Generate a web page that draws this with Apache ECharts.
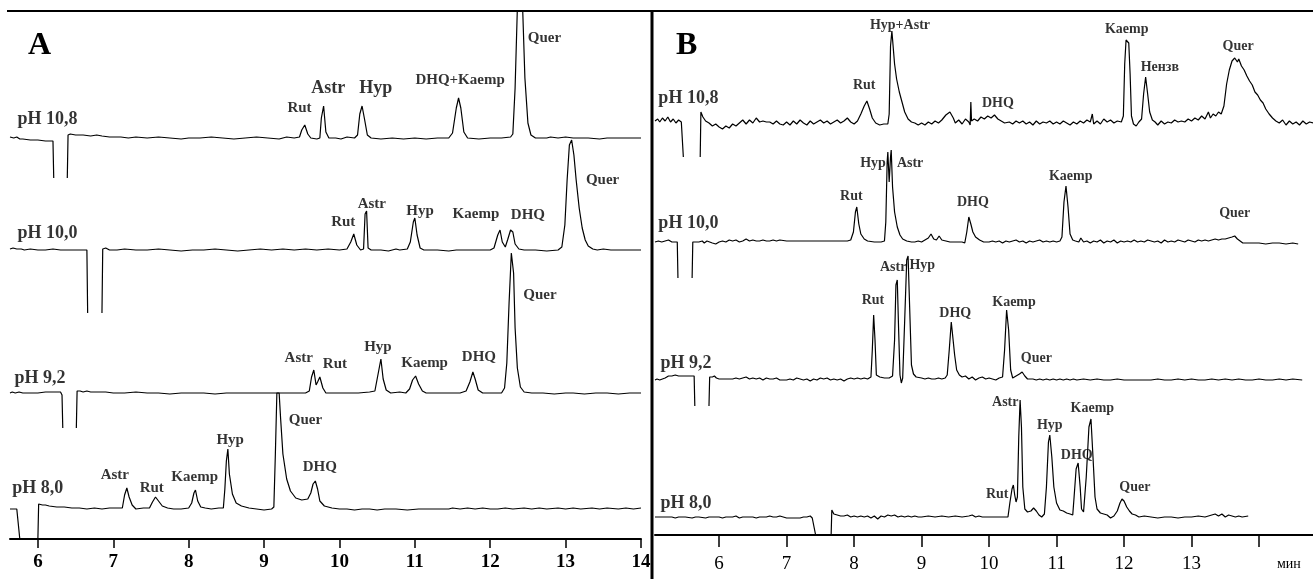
<!DOCTYPE html>
<html>
<head>
<meta charset="utf-8">
<script src="https://cdn.jsdelivr.net/npm/echarts@6/dist/echarts.min.js"></script>
<style>
  html, body { margin: 0; padding: 0; background: #fff; }
  #chart { width: 1313px; height: 579px; }
</style>
</head>
<body>
<div id="chart"></div>
<script>
// electropherograms, signal (time in min, height above the trace baseline)
// null = the trace leaves the picture (clipped negative dip)

// ---- panel A ----
var a108 = [[5.63,1],[5.68,0],[5.72,1],[5.76,-1],[5.8,-1],[5.9,-2],[6.0,-2],[6.1,-3],[6.2,-3],[6.21,-40],[6.3,null],[6.39,-40],[6.4,3],[6.43,4],[6.5,3],[6.6,3],[6.7,2],[6.78,3],[6.8,1],[6.85,2],[6.95,1],[7.1,1],[7.2,0],[7.3,1],[7.45,0],[7.6,1],[7.75,0],[7.9,-1],[8.0,0],[8.15,0],[8.3,1],[8.45,0],[8.6,-1],[8.75,0],[8.9,1],[9.05,0],[9.2,-1],[9.3,1],[9.4,0],[9.47,1],[9.5,8],[9.54,13],[9.58,4],[9.62,0],[9.7,-1],[9.74,0],[9.76,20],[9.79,32],[9.82,6],[9.86,0],[9.95,0],[10.02,-1],[10.1,1],[10.2,0],[10.24,3],[10.27,24],[10.3,32],[10.33,20],[10.37,3],[10.42,0],[10.55,-1],[10.7,0],[10.85,-1],[11.0,0],[11.15,-1],[11.3,0],[11.45,0],[11.5,5],[11.55,30],[11.58,40],[11.61,30],[11.65,6],[11.7,0],[11.85,-1],[12.0,0],[12.15,0],[12.27,1],[12.3,4],[12.33,50],[12.36,130],[12.4,135],[12.43,130],[12.46,60],[12.5,15],[12.54,3],[12.6,0],[12.75,0],[12.8,1],[12.9,0],[13.0,1],[13.1,0],[13.3,0],[13.45,-1],[13.55,0],[13.7,0],[13.85,0],[14.0,0]];
var a100 = [[5.63,1],[5.67,2],[5.72,1],[5.78,1],[5.82,0],[5.9,1],[6.0,0],[6.1,0],[6.2,1],[6.3,0],[6.4,0],[6.5,0],[6.6,0],[6.65,0],[6.66,-63],[6.75,null],[6.85,-63],[6.86,1],[6.9,2],[6.95,0],[7.05,0],[7.15,1],[7.3,0],[7.45,0],[7.6,1],[7.75,0],[7.9,-1],[8.05,0],[8.2,0],[8.35,1],[8.5,0],[8.65,-1],[8.8,0],[8.95,1],[9.1,0],[9.25,1],[9.4,0],[9.55,1],[9.7,0],[9.85,1],[10.0,0],[10.1,1],[10.15,8],[10.19,16],[10.23,5],[10.28,0],[10.32,1],[10.34,36],[10.36,39],[10.38,2],[10.42,0],[10.55,0],[10.65,-1],[10.75,1],[10.77,3],[10.8,0],[10.9,1],[10.94,8],[10.98,28],[11.0,32],[11.03,15],[11.07,2],[11.12,0],[11.3,0],[11.45,-1],[11.55,0],[11.7,0],[11.85,0],[12.0,0],[12.05,2],[12.1,15],[12.13,20],[12.16,8],[12.2,3],[12.23,10],[12.27,20],[12.3,18],[12.33,6],[12.38,1],[12.45,0],[12.6,0],[12.75,-1],[12.9,0],[12.95,3],[12.99,25],[13.02,70],[13.05,105],[13.08,110],[13.11,95],[13.14,70],[13.18,42],[13.22,22],[13.26,10],[13.3,4],[13.36,1],[13.42,0],[13.5,1],[13.6,0],[13.75,0],[13.9,0],[14.0,0]];
var a92 = [[5.63,0],[5.66,1],[5.7,0],[5.75,1],[5.8,0],[5.9,0],[6.0,0],[6.1,1],[6.2,1],[6.3,1],[6.32,-2],[6.33,-35],[6.42,null],[6.51,-35],[6.52,2],[6.56,2],[6.6,1],[6.65,2],[6.7,1],[6.8,1],[6.9,1],[7.0,0],[7.15,0],[7.3,1],[7.45,0],[7.6,0],[7.75,-1],[7.9,0],[8.05,0],[8.2,0],[8.35,-1],[8.5,0],[8.65,0],[8.8,0],[8.95,0],[9.1,0],[9.25,0],[9.4,0],[9.55,0],[9.6,2],[9.63,16],[9.66,23],[9.69,8],[9.71,11],[9.74,16],[9.78,5],[9.82,0],[9.95,0],[10.1,0],[10.25,0],[10.4,1],[10.47,2],[10.51,18],[10.55,34],[10.58,14],[10.62,3],[10.68,0],[10.8,1],[10.88,0],[10.93,4],[10.97,13],[11.01,17],[11.05,9],[11.1,2],[11.15,0],[11.3,0],[11.45,0],[11.6,0],[11.68,2],[11.73,11],[11.77,21],[11.8,14],[11.84,3],[11.9,0],[12.05,0],[12.15,0],[12.19,5],[12.22,30],[12.25,90],[12.28,140],[12.31,120],[12.33,65],[12.36,25],[12.4,6],[12.45,1],[12.55,0],[12.7,0],[12.85,-1],[13.0,0],[13.1,0],[13.25,-1],[13.4,0],[13.55,0],[13.7,-1],[13.85,0],[14.0,0]];
var a80 = [[5.63,0],[5.66,0],[5.72,0],[5.74,-1],[5.76,-30],[6.0,-30],[6.01,5],[6.06,4],[6.1,4],[6.15,3],[6.25,2],[6.35,2],[6.45,1],[6.55,1],[6.65,0],[6.75,1],[6.85,0],[6.95,1],[7.05,1],[7.12,1],[7.15,14],[7.18,21],[7.21,12],[7.25,4],[7.3,0],[7.4,1],[7.48,1],[7.52,7],[7.56,12],[7.6,8],[7.65,3],[7.72,1],[7.8,0],[7.9,0],[8.0,1],[8.04,6],[8.07,16],[8.09,19],[8.12,8],[8.16,2],[8.22,1],[8.3,0],[8.4,1],[8.46,1],[8.48,20],[8.5,48],[8.52,60],[8.54,35],[8.58,15],[8.63,6],[8.7,3],[8.8,1],[8.9,0],[9.0,-1],[9.1,0],[9.13,2],[9.15,55],[9.17,116],[9.2,116],[9.22,90],[9.25,55],[9.3,30],[9.35,18],[9.42,11],[9.5,9],[9.58,10],[9.62,16],[9.65,25],[9.68,28],[9.71,20],[9.74,8],[9.8,3],[9.9,1],[10.0,0],[10.1,0],[10.2,-1],[10.3,0],[10.4,0],[10.5,-1],[10.6,0],[10.75,0],[10.9,-1],[11.05,0],[11.2,0],[11.35,0],[11.45,0],[11.5,1],[11.6,0],[11.7,1],[11.8,0],[11.9,1],[12.0,0],[12.1,0],[12.2,1],[12.3,0],[12.45,1],[12.55,0],[12.65,1],[12.75,0],[12.9,1],[13.0,0],[13.1,1],[13.2,0],[13.35,1],[13.45,0],[13.55,1],[13.7,0],[13.8,1],[13.9,0],[14.0,1]];

// ---- panel B ----
var b108 = [[5.05,3],[5.09,5],[5.12,2],[5.16,6],[5.2,3],[5.24,7],[5.28,2],[5.32,5],[5.36,1],[5.4,4],[5.44,2],[5.46,3],[5.47,-33],[5.6,null],[5.72,-33],[5.73,12],[5.76,7],[5.8,3],[5.85,1],[5.9,-2],[5.95,0],[6.0,-3],[6.05,-5],[6.1,-2],[6.15,-4],[6.2,0],[6.25,-2],[6.3,1],[6.35,4],[6.4,0],[6.45,4],[6.5,1],[6.55,6],[6.6,2],[6.65,3],[6.7,2],[6.75,2],[6.8,0],[6.85,3],[6.9,0],[6.95,-1],[7.0,2],[7.05,-1],[7.1,3],[7.15,0],[7.2,4],[7.25,1],[7.3,-1],[7.35,3],[7.4,0],[7.45,2],[7.5,4],[7.55,1],[7.6,3],[7.65,0],[7.7,2],[7.75,4],[7.8,1],[7.85,3],[7.9,6],[7.95,2],[8.0,0],[8.05,3],[8.1,10],[8.15,18],[8.19,23],[8.23,15],[8.27,6],[8.32,1],[8.38,-1],[8.44,0],[8.5,0],[8.52,10],[8.54,78],[8.56,93],[8.58,92],[8.6,60],[8.63,45],[8.67,32],[8.71,22],[8.75,12],[8.8,5],[8.85,2],[8.9,1],[8.95,-1],[9.0,1],[9.05,-1],[9.1,2],[9.15,0],[9.2,3],[9.25,1],[9.3,4],[9.36,9],[9.42,12],[9.47,6],[9.5,1],[9.55,4],[9.6,0],[9.65,5],[9.7,2],[9.72,-1],[9.73,22],[9.74,3],[9.78,5],[9.83,3],[9.88,7],[9.93,5],[9.98,8],[10.03,6],[10.08,9],[10.13,5],[10.18,3],[10.23,1],[10.3,2],[10.35,0],[10.4,3],[10.45,1],[10.5,3],[10.55,0],[10.6,2],[10.65,-1],[10.7,3],[10.75,0],[10.8,2],[10.85,1],[10.9,3],[10.95,0],[11.0,2],[11.05,0],[11.1,3],[11.15,1],[11.2,-1],[11.25,2],[11.3,0],[11.35,3],[11.4,1],[11.45,4],[11.5,2],[11.53,10],[11.55,0],[11.6,3],[11.65,0],[11.7,5],[11.75,2],[11.8,4],[11.85,1],[11.9,3],[11.96,2],[11.99,8],[12.01,60],[12.03,84],[12.05,83],[12.07,81],[12.09,50],[12.11,8],[12.14,0],[12.18,-2],[12.22,2],[12.26,5],[12.29,30],[12.32,47],[12.35,30],[12.38,12],[12.42,4],[12.46,2],[12.5,-1],[12.55,3],[12.6,0],[12.65,2],[12.7,1],[12.75,4],[12.8,2],[12.85,3],[12.9,2],[12.95,5],[13.0,3],[13.05,6],[13.1,4],[13.15,8],[13.2,5],[13.25,12],[13.28,6],[13.32,10],[13.36,8],[13.4,12],[13.44,10],[13.48,18],[13.52,40],[13.56,54],[13.6,63],[13.64,66],[13.68,62],[13.7,65],[13.74,58],[13.78,54],[13.82,48],[13.86,43],[13.9,39],[13.94,32],[13.98,29],[14.02,24],[14.06,21],[14.1,15],[14.15,10],[14.2,6],[14.25,3],[14.3,1],[14.35,4],[14.4,-1],[14.45,3],[14.5,0],[14.55,2],[14.6,-1],[14.65,3],[14.7,0],[14.75,2],[14.8,1]];
var b100 = [[5.05,0],[5.1,1],[5.15,0],[5.2,1],[5.25,2],[5.3,0],[5.35,0],[5.38,0],[5.39,-36],[5.5,null],[5.6,-36],[5.61,0],[5.65,0],[5.7,0],[5.75,1],[5.78,-1],[5.82,1],[5.86,0],[5.9,-1],[5.95,-2],[6.0,0],[6.05,1],[6.1,0],[6.15,2],[6.2,1],[6.25,2],[6.3,0],[6.35,1],[6.4,3],[6.45,1],[6.5,2],[6.55,1],[6.6,1],[6.65,2],[6.7,1],[6.75,1],[6.8,2],[6.85,1],[6.9,2],[7.0,1],[7.1,1],[7.2,1],[7.3,1],[7.4,1],[7.5,1],[7.6,1],[7.7,1],[7.8,1],[7.9,1],[7.95,2],[7.99,10],[8.02,30],[8.04,35],[8.07,18],[8.1,8],[8.15,3],[8.2,1],[8.3,0],[8.4,0],[8.45,1],[8.47,20],[8.49,80],[8.5,90],[8.52,60],[8.54,85],[8.55,92],[8.57,55],[8.6,30],[8.64,15],[8.68,7],[8.72,3],[8.78,1],[8.85,0],[8.9,0],[8.95,1],[9.0,0],[9.05,2],[9.1,4],[9.14,8],[9.18,3],[9.22,2],[9.26,6],[9.3,2],[9.36,1],[9.42,0],[9.5,0],[9.55,0],[9.6,0],[9.64,-1],[9.67,10],[9.7,25],[9.73,18],[9.76,10],[9.8,5],[9.86,2],[9.92,0],[10.0,0],[10.05,1],[10.1,0],[10.15,1],[10.2,-1],[10.25,1],[10.3,0],[10.35,1],[10.4,2],[10.45,0],[10.5,1],[10.55,-1],[10.6,1],[10.65,0],[10.7,1],[10.75,2],[10.8,0],[10.85,1],[10.9,0],[10.95,1],[11.0,0],[11.05,1],[11.08,5],[11.11,40],[11.14,56],[11.17,35],[11.2,8],[11.24,2],[11.28,1],[11.33,0],[11.36,4],[11.4,0],[11.45,1],[11.5,-1],[11.55,1],[11.6,0],[11.65,2],[11.7,-1],[11.75,1],[11.8,0],[11.85,2],[11.9,-1],[11.95,1],[12.0,0],[12.05,1],[12.1,0],[12.15,2],[12.2,0],[12.25,1],[12.3,0],[12.35,2],[12.4,1],[12.45,0],[12.5,1],[12.55,-1],[12.6,2],[12.65,0],[12.7,1],[12.75,0],[12.8,2],[12.85,1],[12.9,0],[12.95,2],[13.0,1],[13.05,0],[13.1,2],[13.15,1],[13.2,2],[13.25,1],[13.3,2],[13.35,3],[13.4,2],[13.45,3],[13.5,3],[13.55,4],[13.6,5],[13.64,6],[13.68,3],[13.72,1],[13.76,-1],[13.8,-1],[13.9,-1],[14.0,-1],[14.1,-2],[14.2,-1],[14.3,-1],[14.4,-2],[14.5,-1],[14.58,-2]];
var b92 = [[5.05,0],[5.08,1],[5.12,0],[5.16,1],[5.2,2],[5.25,4],[5.3,4],[5.35,5],[5.4,4],[5.45,4],[5.5,4],[5.6,4],[5.63,4],[5.64,-26],[5.75,null],[5.85,-26],[5.86,3],[5.9,3],[5.93,4],[5.96,2],[6.0,1],[6.1,1],[6.2,1],[6.25,2],[6.3,1],[6.35,2],[6.4,3],[6.45,1],[6.5,2],[6.55,1],[6.6,2],[6.65,0],[6.7,2],[6.75,1],[6.8,1],[6.85,2],[6.9,0],[7.0,0],[7.05,1],[7.1,0],[7.15,2],[7.2,1],[7.25,0],[7.3,1],[7.35,-1],[7.4,1],[7.45,0],[7.5,2],[7.55,1],[7.6,2],[7.65,0],[7.7,1],[7.75,0],[7.8,1],[7.85,-1],[7.9,1],[7.95,2],[8.0,1],[8.05,2],[8.1,1],[8.15,2],[8.2,1],[8.25,3],[8.27,30],[8.29,65],[8.31,40],[8.33,5],[8.38,3],[8.45,2],[8.52,2],[8.57,4],[8.6,40],[8.62,95],[8.64,100],[8.66,50],[8.68,5],[8.7,-3],[8.72,2],[8.75,60],[8.78,120],[8.8,124],[8.82,80],[8.85,15],[8.88,6],[8.92,3],[9.0,2],[9.05,1],[9.1,2],[9.15,1],[9.2,1],[9.25,2],[9.3,1],[9.35,2],[9.38,5],[9.41,30],[9.44,58],[9.46,60],[9.49,25],[9.52,10],[9.56,5],[9.6,3],[9.65,4],[9.7,1],[9.75,3],[9.8,0],[9.85,2],[9.9,3],[9.95,1],[10.0,2],[10.05,1],[10.1,0],[10.15,2],[10.2,3],[10.23,30],[10.26,70],[10.29,50],[10.32,10],[10.35,2],[10.4,4],[10.45,6],[10.49,8],[10.53,4],[10.57,1],[10.65,1],[10.7,0],[10.75,1],[10.8,0],[10.85,1],[10.9,0],[10.95,1],[11.0,0],[11.05,1],[11.1,0],[11.15,1],[11.2,0],[11.25,1],[11.3,0],[11.4,1],[11.5,0],[11.6,1],[11.7,0],[11.8,0],[11.9,1],[12.0,0],[12.1,0],[12.2,0],[12.3,0],[12.4,0],[12.5,1],[12.6,0],[12.7,0],[12.8,1],[12.9,0],[13.0,1],[13.1,0],[13.2,0],[13.3,1],[13.4,0],[13.5,1],[13.6,0],[13.7,1],[13.8,0],[13.9,0],[14.0,1],[14.1,0],[14.2,0],[14.3,1],[14.4,0],[14.5,1],[14.64,0]];
var b80 = [[5.05,0],[5.1,0],[5.2,0],[5.3,0],[5.35,-1],[5.4,0],[5.5,0],[5.6,-1],[5.65,0],[5.7,0],[5.8,-1],[5.85,0],[5.9,0],[6.0,0],[6.05,-1],[6.1,0],[6.2,0],[6.25,1],[6.3,-1],[6.35,0],[6.4,0],[6.5,0],[6.55,-1],[6.6,0],[6.7,0],[6.75,1],[6.8,0],[6.85,0],[6.9,1],[6.95,0],[7.0,-1],[7.1,-1],[7.2,-1],[7.25,0],[7.3,0],[7.35,1],[7.38,-1],[7.43,-18],[7.66,-18],[7.67,7],[7.7,3],[7.75,2],[7.8,1],[7.85,1],[7.9,2],[7.95,0],[8.0,1],[8.05,0],[8.1,1],[8.15,0],[8.2,1],[8.25,-1],[8.3,1],[8.35,-2],[8.4,1],[8.45,0],[8.5,2],[8.55,1],[8.6,2],[8.65,0],[8.7,1],[8.75,0],[8.8,1],[8.85,0],[8.9,1],[8.95,0],[9.0,0],[9.1,1],[9.2,0],[9.3,1],[9.4,0],[9.5,1],[9.6,0],[9.7,1],[9.75,2],[9.8,0],[9.85,1],[9.9,0],[10.0,0],[10.1,0],[10.2,0],[10.28,0],[10.31,15],[10.34,28],[10.36,32],[10.38,22],[10.4,15],[10.42,20],[10.44,80],[10.46,117],[10.48,90],[10.5,30],[10.53,8],[10.57,5],[10.62,6],[10.66,9],[10.7,6],[10.74,2],[10.78,0],[10.82,3],[10.85,30],[10.88,75],[10.9,82],[10.93,60],[10.96,30],[11.0,14],[11.05,7],[11.1,6],[11.15,4],[11.2,3],[11.24,2],[11.26,20],[11.29,48],[11.32,54],[11.35,30],[11.37,8],[11.4,5],[11.44,40],[11.48,90],[11.51,98],[11.54,60],[11.57,20],[11.6,8],[11.65,4],[11.7,3],[11.75,2],[11.8,-1],[11.85,1],[11.9,6],[11.94,14],[11.97,18],[12.0,16],[12.04,10],[12.08,6],[12.12,3],[12.17,2],[12.22,0],[12.3,1],[12.4,0],[12.5,-1],[12.6,0],[12.7,0],[12.8,-1],[12.9,0],[13.0,0],[13.1,1],[13.2,0],[13.3,2],[13.35,3],[13.4,1],[13.45,3],[13.5,0],[13.55,2],[13.6,1],[13.65,0],[13.7,1],[13.75,0],[13.84,1]];

// stacking offsets of the traces (signal units above the time axis)
var tracesA = [a108, a100, a92, a80];
var offsetsA = [401, 289, 146, 30];
var tracesB = [b108, b100, b92, b80];
var offsetsB = [411, 293, 155, 18];

// time axis ticks
var ticksA = [6, 7, 8, 9, 10, 11, 12, 13, 14];
var ticksB = [6, 7, 8, 9, 10, 11, 12, 13, 14];
var tickLabelsB = [6, 7, 8, 9, 10, 11, 12, 13];

// peak and trace labels: [text, time, signal]
var notesA = [
  ['pH 10,8', 5.73, 420], ['Rut', 9.47, 431], ['Astr', 9.85, 451], ['Hyp', 10.48, 451], ['DHQ+Kaemp', 11.6, 459], ['Quer', 12.72, 501],
  ['pH 10,0', 5.73, 306], ['Rut', 10.05, 317], ['Astr', 10.43, 335], ['Hyp', 11.07, 328], ['Kaemp', 11.81, 325], ['DHQ', 12.5, 324], ['Quer', 13.49, 359],
  ['pH 9,2', 5.69, 161], ['Astr', 9.46, 181], ['Rut', 9.94, 175], ['Hyp', 10.51, 192], ['Kaemp', 11.13, 176], ['DHQ', 11.85, 182], ['Quer', 12.66, 244],
  ['pH 8,0', 5.66, 51], ['Astr', 7.02, 64], ['Rut', 7.51, 51], ['Kaemp', 8.08, 62], ['Hyp', 8.55, 99], ['Quer', 9.55, 119], ['DHQ', 9.74, 72]
];
var notesB = [
  ['pH 10,8', 5.1, 437], ['Rut', 8.15, 450], ['Hyp+Astr', 8.68, 510], ['DHQ', 10.13, 432], ['Kaemp', 12.04, 506], ['Нензв', 12.53, 468], ['Quer', 13.69, 489],
  ['pH 10,0', 5.1, 312], ['Rut', 7.96, 339], ['Hyp', 8.28, 372], ['Astr', 8.83, 372], ['DHQ', 9.76, 333], ['Kaemp', 11.21, 359], ['Quer', 13.64, 322],
  ['pH 9,2', 5.13, 172], ['Astr', 8.58, 268], ['Hyp', 9.01, 270], ['Rut', 8.28, 235], ['DHQ', 9.5, 222], ['Kaemp', 10.37, 233], ['Quer', 10.7, 177],
  ['pH 8,0', 5.13, 32], ['Astr', 10.24, 133], ['Hyp', 10.9, 110], ['Kaemp', 11.53, 127], ['DHQ', 11.3, 80], ['Rut', 10.12, 41], ['Quer', 12.16, 48]
];

var chart = echarts.init(document.getElementById('chart'));
var serif = 'Liberation Serif';

function shift(points, offset) {
  return points.map(function (p) {
    return p[1] === null ? [p[0], '-'] : [p[0], p[1] + offset];
  });
}

function traceSeries(traces, offsets, idx) {
  return traces.map(function (t, i) {
    return {
      type: 'line',
      xAxisIndex: idx,
      yAxisIndex: idx,
      data: shift(t, offsets[i]),
      showSymbol: false,
      symbol: 'none',
      connectNulls: false,
      clip: true,
      lineStyle: { color: '#000', width: 1.2 },
      silent: true
    };
  });
}

function noteSeries(notes, idx, small) {
  return {
    type: 'scatter',
    xAxisIndex: idx,
    yAxisIndex: idx,
    symbolSize: 0,
    silent: true,
    data: notes.map(function (n) {
      var isPh = n[0].indexOf('pH') === 0;
      var size = isPh ? 18 : small;
      if (idx === 0 && n[2] > 440 && (n[0] === 'Astr' || n[0] === 'Hyp')) size = 18;
      return {
        value: [n[1], n[2]],
        name: n[0],
        label: {
          show: true,
          position: 'inside',
          align: isPh ? 'left' : 'center',
          verticalAlign: 'middle',
          formatter: '{b}',
          fontFamily: serif,
          fontWeight: 'bold',
          fontSize: size,
          color: '#000'
        }
      };
    })
  };
}

var axisBase = {
  type: 'value',
  splitLine: { show: false },
  axisLine: { lineStyle: { color: '#000', width: 2 } }
};

var option = {
  animation: false,
  backgroundColor: '#fff',
  grid: [
    { left: 10, top: 12, width: 631, height: 527 },
    { left: 655, top: 12, width: 658, height: 523 }
  ],
  xAxis: [
    Object.assign({}, axisBase, {
      gridIndex: 0, min: 5.63, max: 14,
      axisTick: { customValues: ticksA, length: 9, lineStyle: { color: '#000', width: 1.5 } },
      axisLabel: { customValues: ticksA, color: '#000', fontFamily: serif, fontWeight: 'bold', fontSize: 19, margin: 14 }
    }),
    Object.assign({}, axisBase, {
      gridIndex: 1, min: 5.05, max: 14.8,
      axisTick: { customValues: ticksB, length: 12, lineStyle: { color: '#000', width: 1.5 } },
      axisLabel: { customValues: tickLabelsB, color: '#000', fontFamily: serif, fontSize: 19, margin: 20 }
    })
  ],
  yAxis: [
    { type: 'value', gridIndex: 0, min: 0, max: 527, show: false },
    { type: 'value', gridIndex: 1, min: 0, max: 523, show: false }
  ],
  series: traceSeries(tracesA, offsetsA, 0)
    .concat(traceSeries(tracesB, offsetsB, 1))
    .concat([noteSeries(notesA, 0, 15), noteSeries(notesB, 1, 14)]),
  graphic: [
    { type: 'line', shape: { x1: 7, y1: 11, x2: 1313, y2: 11 }, style: { stroke: '#000', lineWidth: 2 } },
    { type: 'line', shape: { x1: 652, y1: 11, x2: 652, y2: 579 }, style: { stroke: '#000', lineWidth: 3 } },
    { type: 'text', left: 28, top: 30, style: { text: 'A', font: 'bold 32px "Liberation Serif"', fill: '#000' } },
    { type: 'text', left: 676, top: 30, style: { text: 'B', font: 'bold 32px "Liberation Serif"', fill: '#000' } },
    { type: 'text', left: 1277, top: 557, style: { text: 'мин', font: '14px "Liberation Serif"', fill: '#000' } }
  ]
};

chart.setOption(option);
</script>
</body>
</html>
